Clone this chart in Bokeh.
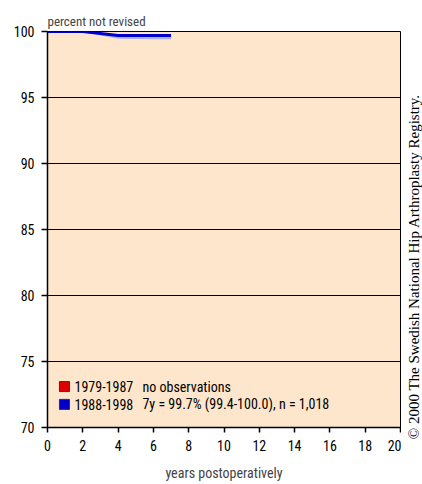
from bokeh.plotting import figure
from bokeh.models import Label, FixedTicker
from bokeh.layouts import row
from bokeh.embed import file_html
from bokeh.resources import INLINE
import math

# ---- data ----
years = [0, 1, 2, 3, 4, 5, 6, 7]
surv_88_98 = [100.0, 100.0, 100.0, 99.85, 99.7, 99.7, 99.7, 99.7]
lower_88_98 = [100.0, 100.0, 100.0, 99.7, 99.45, 99.43, 99.42, 99.42]
upper_88_98 = [100.0, 100.0, 100.0, 99.9, 99.78, 99.78, 99.78, 99.78]
x_ticks = [0, 2, 4, 6, 8, 10, 12, 14, 16, 18, 20]
y_ticks = [70, 75, 80, 85, 90, 95, 100]
legend_periods = ["1979-1987", "1988-1998"]
legend_notes = ["no observations", "7y = 99.7% (99.4-100.0), n = 1,018"]
legend_colors = ["#E00000", "#0000C8"]
copyright_text = "\u00a9 2000 The Swedish National Hip Arthroplasty Registry."

FONT = "Roboto Condensed"
SERIF = "Liberation Serif"

H = 484
p = figure(width=401, height=H, x_range=(0, 20), y_range=(70, 100),
           output_backend="svg", toolbar_location=None,
           min_border_left=47, min_border_right=1, min_border_top=31,
           min_border_bottom=57)
p.frame_align = False
p.background_fill_color = "#FDE6CC"
p.border_fill_color = "white"
p.outline_line_color = "black"
p.outline_line_width = 1

p.title.text = "percent not revised"
p.title.align = "left"
p.title.text_font = FONT
p.title.text_font_size = "13px"
p.title.text_font_style = "normal"
p.title.standoff = 5

p.xgrid.grid_line_color = None
p.ygrid.grid_line_color = "black"
p.ygrid.grid_line_width = 1
p.ygrid.ticker = FixedTicker(ticks=y_ticks)

p.xaxis.ticker = FixedTicker(ticks=x_ticks)
p.yaxis.ticker = FixedTicker(ticks=y_ticks)
for ax in (p.xaxis, p.yaxis):
    ax.axis_line_color = "black"
    ax.axis_line_width = 1.5
    ax.major_tick_line_color = "black"
    ax.major_tick_line_width = 1.5
    ax.major_tick_in = 0
    ax.minor_tick_line_color = None
    ax.major_label_text_font = FONT
    ax.major_label_text_font_size = "14px"
    ax.major_label_text_color = "black"
p.yaxis.major_tick_out = 6
p.yaxis.major_label_standoff = 7
p.xaxis.major_tick_out = 5
p.xaxis.major_label_standoff = 7
p.xaxis.axis_label = "years postoperatively"
p.xaxis.axis_label_text_font = FONT
p.xaxis.axis_label_text_font_size = "14px"
p.xaxis.axis_label_text_font_style = "normal"
p.xaxis.axis_label_standoff = 11

# confidence band and survival line
p.varea(x=years, y1=lower_88_98, y2=upper_88_98, fill_color="#8C9EE6", fill_alpha=0.75)
p.line(x=years, y=surv_88_98, line_color=legend_colors[1], line_width=3)

# legend (manual)
leg_y = [73.1, 71.75]
p.scatter(x=[0.96, 0.96], y=leg_y, marker="square", size=10,
          fill_color=legend_colors, line_color="#333333", line_width=1)
for i in range(2):
    p.add_layout(Label(x=1.53, y=leg_y[i], text=legend_periods[i], text_font=FONT,
                       text_font_size="14px", text_baseline="middle", text_color="black"))
    p.add_layout(Label(x=5.38, y=leg_y[i], text=legend_notes[i], text_font=FONT,
                       text_font_size="14px", text_baseline="middle", text_color="black"))

# narrow side panel carrying the vertical copyright line
side = figure(width=21, height=H, x_range=(0, 1), y_range=(0, 1),
              output_backend="svg", toolbar_location=None,
              x_axis_location=None, y_axis_location=None,
              min_border=0, min_border_left=0, min_border_right=0,
              min_border_top=0, min_border_bottom=0)
side.frame_align = False
side.outline_line_color = None
side.grid.grid_line_color = None
side.background_fill_color = "white"
side.border_fill_color = "white"
side.add_layout(Label(x=0.6, y=1 - 266 / H, angle=math.pi / 2, text=copyright_text,
                      text_font=SERIF, text_font_size="15px", text_align="center",
                      text_baseline="middle", text_color="black"))

layout = row(p, side, spacing=0)
open("out.html", "w").write(file_html(layout, INLINE))
